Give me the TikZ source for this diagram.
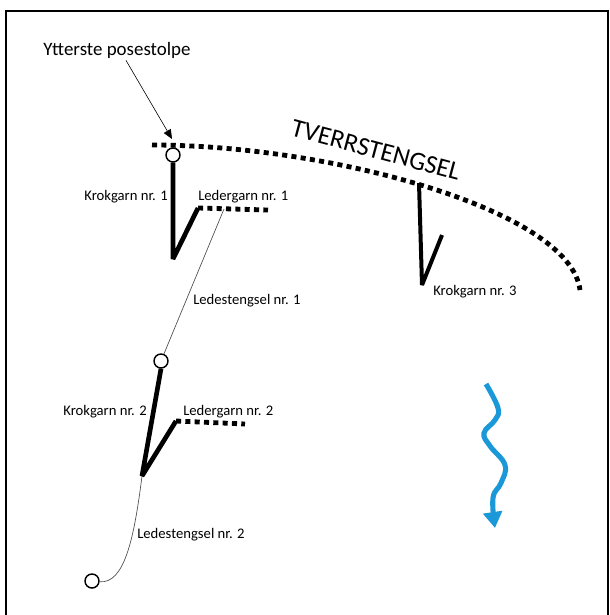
\documentclass[tikz,border=0pt]{standalone}
\usepackage{fontspec}
\setmainfont{Carlito}
\usepackage{tikz}
\usetikzlibrary{arrows.meta}
\usetikzlibrary{calc}

\definecolor{strom}{RGB}{27,152,215}

\begin{document}
\begin{tikzpicture}[x=0.75pt,y=-0.75pt,
	lbl/.style={inner sep=0pt,font=\fontsize{11}{13}\selectfont},
	post/.style={circle,draw,fill=white,line width=1.1pt,minimum size=10.5pt,inner sep=0pt},
	garn/.style={line width=3.5pt,line join=bevel},
	leder/.style={line width=3.6pt,dash pattern=on 3.8pt off 3.2pt},
	stengsel/.style={line width=0.5pt,black!70}]
\useasboundingbox (0,0) rectangle (610,615);
\draw[line width=2.2pt] (6,640) -- (6,11) -- (608,11) -- (608,640);

% tverrstengsel
\coordinate (t0) at (152,145);
\coordinate (t1) at (580,290);
\draw[leder] (t0) .. controls (330,145) and (570,210) .. (t1);
\node[rotate=-15,inner sep=0pt,font=\fontsize{19.5}{21}\selectfont] (tverr) at (376,150) {TVERRSTENGSEL};

% stolper
\node[post] (p1) at (173,155) {};
\node[post] (p2) at (161,361) {};
\node[post] (p3) at (92,581) {};

\node[inner sep=0pt,font=\fontsize{14.2}{16}\selectfont] (ytt) at (117,50) {Ytterste posestolpe};
\coordinate (ytt-pil) at (172,139);
\draw[-{Triangle[length=7pt,width=6pt]},line width=0.45pt] ($(ytt.south)+(9,2)$) -- (ytt-pil);

% krokgarn 1 og 2
\coordinate (k1) at (173,259);
\coordinate (a1) at (198,208);
\coordinate (l1) at (268,210);
\coordinate (k2) at (142,476);
\coordinate (a2) at (176,421);
\coordinate (l2) at (245,424);
\draw[stengsel] (224,209) -- (p2);
\draw[stengsel] (k2) .. controls (134,540) and (124,584) .. (p3);
\draw[garn] (p1.south) -- (k1) -- (a1);
\draw[leder] (a1) -- (l1);
\draw[garn] (p2.south) -- (k2) -- (a2);
\draw[leder] (a2) -- (l2);

% krokgarn 3
\coordinate (k3a) at (419,183);
\coordinate (k3) at (422,285);
\coordinate (a3) at (442,235);
\draw[garn,line width=3pt] (k3a) -- (k3) -- (a3);

\node[lbl,anchor=base east] (kg1) at (168,200) {Krokgarn nr. 1};
\node[lbl,anchor=base west] (lg1) at (198,200) {Ledergarn nr. 1};
\node[lbl,anchor=base west] (ls1) at (193,304) {Ledestengsel nr. 1};
\node[lbl,anchor=base east] (kg2) at (147,415) {Krokgarn nr. 2};
\node[lbl,anchor=base west] (lg2) at (183,415) {Ledergarn nr. 2};
\node[lbl,anchor=base west] (ls2) at (137,538) {Ledestengsel nr. 2};
\node[lbl,anchor=base west] (kg3) at (433,295) {Krokgarn nr. 3};

% strom
\draw[strom,line width=3.8pt,-{Triangle[length=12pt,width=14pt]}]
	plot[smooth,tension=0.7] coordinates {(486,384) (498,408) (495,420) (484,433) (490,446) (505,465) (501,483) (493,498) (495,528)};
\end{tikzpicture}
\end{document}
